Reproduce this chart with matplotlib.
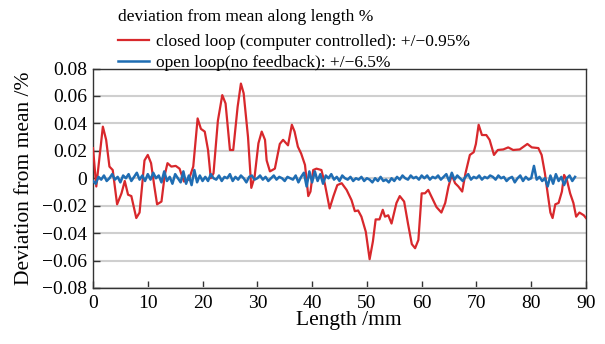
import matplotlib
matplotlib.use("Agg")
import matplotlib.pyplot as plt
from matplotlib.ticker import FixedLocator, FixedFormatter

plt.rcParams['font.family'] = ['Liberation Serif', 'DejaVu Serif']

# Closed loop (red) trace
closed_x = [0.0, 0.6, 1.8, 2.4, 3.0, 3.6, 4.4, 5.2, 5.8, 6.4, 7.0, 7.9, 8.5, 9.4, 10.0,
            10.6, 11.2, 11.7, 12.5, 13.1, 13.6, 14.3, 15.1, 15.8, 16.6, 17.5, 18.3, 19.1,
            19.7, 20.4, 21.0, 21.5, 22.0, 22.8, 23.6, 24.2, 25.0, 25.6, 26.4, 27.0, 27.5,
            28.3, 28.9, 29.5, 30.2, 30.8, 31.4, 31.7, 32.3, 33.2, 34.1, 34.7, 35.6, 36.3,
            36.8, 37.4, 38.0, 38.7, 39.3, 39.7, 40.2, 40.8, 41.7, 42.3, 43.2, 43.9, 44.6,
            45.4, 46.3, 47.2, 47.8, 48.4, 49.0, 49.8, 50.5, 51.1, 51.6, 52.3, 52.9, 53.3,
            53.9, 54.5, 55.4, 56.0, 56.8, 57.5, 58.2, 58.8, 59.4, 60.0, 60.6, 61.2, 62.1,
            62.7, 63.6, 64.3, 64.9, 65.5, 66.1, 66.7, 67.4, 68.0, 68.8, 69.5, 69.9, 70.4,
            71.0, 71.8, 72.4, 73.2, 73.9, 74.9, 75.8, 76.7, 77.9, 78.6, 79.3, 80.1, 81.3,
            81.9, 82.5, 83.0, 83.5, 83.9, 84.4, 85.0, 85.6, 86.0, 86.5, 87.1, 87.7, 88.2,
            88.8, 89.6, 90.0]
closed_y = [0.022, -0.006, 0.0376, 0.028, 0.0085, 0.006, -0.019, -0.011, -0.002, -0.012,
            -0.013, -0.029, -0.025, 0.013, 0.017, 0.011, -0.006, -0.019, -0.017, 0.0024,
            0.011, 0.0085, 0.009, 0.007, -0.0024, -0.001, 0.0085, 0.0436, 0.036, 0.034,
            0.0206, 0.0, 0.0036, 0.042, 0.0606, 0.0545, 0.0206, 0.0206, 0.052, 0.069,
            0.062, 0.030, -0.007, 0.001, 0.0255, 0.034, 0.028, 0.013, 0.005, 0.007, 0.025,
            0.028, 0.024, 0.039, 0.034, 0.023, 0.018, 0.0097, -0.013, -0.0097, 0.006,
            0.007, 0.006, -0.0036, -0.022, -0.013, -0.005, -0.0036, -0.0085, -0.016,
            -0.024, -0.0235, -0.028, -0.039, -0.059, -0.046, -0.030, -0.030, -0.023,
            -0.028, -0.027, -0.033, -0.018, -0.013, -0.017, -0.033, -0.048, -0.051,
            -0.045, -0.011, -0.011, -0.0085, -0.016, -0.021, -0.025, -0.018, -0.006,
            0.0024, -0.0036, -0.006, -0.0097, 0.0036, 0.017, 0.019, 0.025, 0.039, 0.0315,
            0.0315, 0.028, 0.017, 0.0206, 0.021, 0.0225, 0.0206, 0.021, 0.023, 0.025,
            0.0225, 0.022, 0.017, 0.0036, -0.011, -0.025, -0.029, -0.019, -0.018, -0.0097,
            0.0024, -0.001, -0.011, -0.018, -0.028, -0.025, -0.027, -0.029]

# Open loop (blue) trace, sampled every 0.5 mm from 0 to 88 mm
open_y = [
    -0.002, -0.004, 0.001, -0.001, 0.002, -0.002, 0.000, 0.003, -0.001, 0.001, -0.003,
    0.002, 0.000, 0.003, -0.002, 0.001, 0.004, -0.001, 0.002, -0.002, 0.003,
    -0.001, 0.004, 0.000, 0.002, -0.003, 0.005, -0.002, 0.001, -0.004, 0.003,
    0.000, -0.003, 0.005, -0.004, 0.002, -0.005, 0.006, -0.003, 0.002, -0.002,
    0.001, -0.002, 0.003, 0.000, -0.001, 0.002, -0.002, 0.001, 0.000, 0.003,
    -0.002, 0.001, -0.001, 0.002, 0.000, -0.003, 0.001, 0.002, -0.001, 0.000,
    0.002, -0.001, 0.001, -0.002, 0.000, 0.002, -0.001, 0.001, 0.000, -0.002,
    0.001, 0.000, -0.001, 0.002, -0.003, 0.001, 0.004, -0.006, 0.005, -0.003,
    0.005, -0.002, 0.003, -0.004, 0.002, 0.000, 0.003, -0.001, 0.001, -0.002,
    0.002, 0.000, -0.001, 0.001, -0.002, 0.000, -0.001, 0.001, -0.002, 0.000,
    -0.001, -0.003, 0.000, -0.002, 0.001, -0.002, -0.001, -0.003, 0.000, -0.002,
    0.001, -0.001, 0.002, 0.000, -0.001, 0.002, 0.000, 0.001, -0.001, 0.002,
    0.000, 0.002, -0.001, 0.001, 0.000, 0.002, -0.001, 0.001, 0.003, -0.002,
    0.004, -0.001, 0.002, 0.000, -0.002, 0.001, 0.003, -0.001, 0.001, 0.000,
    0.002, -0.001, 0.001, 0.000, 0.002, 0.001, -0.001, 0.002, 0.000, 0.001,
    -0.002, 0.000, 0.001, -0.003, 0.000, 0.002, -0.002, 0.001, -0.001, 0.000,
    0.009, -0.001, 0.001, -0.002, 0.000, -0.006, 0.002, -0.004, 0.003, -0.002,
    0.001, -0.005, 0.000, 0.002, -0.002, 0.001]
open_x = [i * 0.5 for i in range(len(open_y))]

x_ticks = [0, 10, 20, 30, 40, 50, 60, 70, 80, 90]
y_ticks = [-0.08, -0.06, -0.04, -0.02, 0, 0.02, 0.04, 0.06, 0.08]
y_tick_labels = ['\u22120.08', '\u22120.06', '\u22120.04', '\u22120.02', '0',
                 '0.02', '0.04', '0.06', '0.08']

legend_title = 'deviation from mean along length %'
closed_label = 'closed loop (computer controlled): +/\u22120.95%'
open_label = 'open loop(no feedback): +/\u22126.5%'

W, H = 605, 344
fig = plt.figure(figsize=(W / 100, H / 100), dpi=100)
ax = fig.add_axes([93 / W, 1 - 288 / H, 493 / W, 219.5 / H])

ax.plot(closed_x, closed_y, color='#d8282c', lw=1.6, label=closed_label, zorder=3)
ax.plot(open_x, open_y, color='#1f6db3', lw=1.8, label=open_label, zorder=4)

ax.set_xlim(0, 90)
ax.set_ylim(-0.08, 0.08)
ax.xaxis.set_major_locator(FixedLocator(x_ticks))
ax.yaxis.set_major_locator(FixedLocator(y_ticks))
ax.yaxis.set_major_formatter(FixedFormatter(y_tick_labels))
ax.tick_params(direction='in', labelsize=14, length=5, width=1, color='#333333',
               top=False, right=False)
ax.tick_params(axis='y', pad=4)
ax.tick_params(axis='x', pad=5)
ax.yaxis.grid(True, color='#cfcfcf', lw=1.5, zorder=0)
ax.set_axisbelow(True)
for s in ax.spines.values():
    s.set_color('#333333')
    s.set_linewidth(1.0)

ax.set_xlabel('Length /mm', fontsize=15.5, labelpad=0)
ax.xaxis.set_label_coords(0.518, -0.105)
ax.set_ylabel('Deviation from mean /%', fontsize=15.5, labelpad=6)

fig.text(118 / W, 1 - 17 / H, legend_title, fontsize=12.5, ha='left', va='center')
leg = ax.legend(loc='lower left', bbox_to_anchor=(25 / 493, 1 + (68.5 - 71) / 219.5),
                frameon=False, fontsize=12.5, handlelength=1.8, handletextpad=0.4,
                labelspacing=0.27, borderaxespad=0, borderpad=0)

fig.savefig('out.png', dpi=100)
